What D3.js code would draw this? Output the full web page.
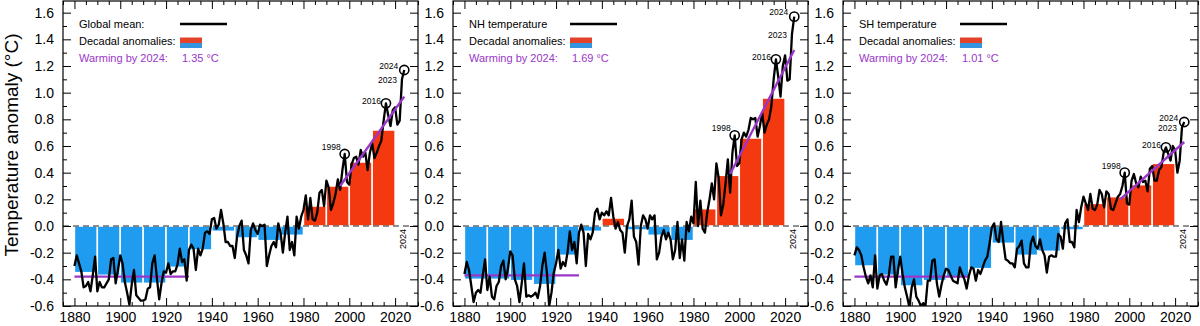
<!DOCTYPE html>
<html>
<head>
<meta charset="utf-8">
<script src="https://cdn.jsdelivr.net/npm/d3@7"></script>
<style>
  body { margin: 0; background: #fff; }
  svg { display: block; font-family: "Liberation Sans", Arial, Helvetica, sans-serif; }
</style>
</head>
<body>
<div id="chart"></div>
<script>
// Annual anomalies, 1880 .. 2024 (degC)
const firstYear = 1880;
const globalMean = [
  -0.30,-0.22,-0.28,-0.34,-0.46,-0.45,-0.42,-0.49,-0.37,-0.23,
  -0.49,-0.42,-0.46,-0.46,-0.43,-0.40,-0.25,-0.24,-0.43,-0.33,
  -0.22,-0.28,-0.42,-0.50,-0.59,-0.44,-0.33,-0.52,-0.54,-0.56,
  -0.56,-0.55,-0.47,-0.46,-0.28,-0.22,-0.39,-0.55,-0.43,-0.34,
  -0.35,-0.28,-0.36,-0.34,-0.34,-0.29,-0.17,-0.27,-0.25,-0.41,
  -0.18,-0.14,-0.17,-0.33,-0.17,-0.22,-0.17,-0.05,-0.04,-0.06,
   0.05, 0.06,-0.02, 0.01, 0.12, 0.02,-0.12,-0.12,-0.15,-0.15,
  -0.24,-0.08, 0.00, 0.04,-0.18,-0.22,-0.28,-0.03, 0.02,-0.03,
  -0.06, 0.01, 0.00, 0.01,-0.30,-0.22,-0.15,-0.12,-0.16, 0.02,
  -0.05,-0.20,-0.05, 0.07,-0.18,-0.12,-0.22, 0.07,-0.02, 0.07,
   0.12, 0.23, 0.05, 0.21, 0.05, 0.04, 0.10, 0.25, 0.27, 0.15,
   0.34, 0.29, 0.12, 0.17, 0.24, 0.35, 0.27, 0.42, 0.54, 0.33,
   0.31, 0.46, 0.51, 0.52, 0.46, 0.57, 0.52, 0.55, 0.42, 0.55,
   0.62, 0.51, 0.55, 0.60, 0.64, 0.79, 0.92, 0.83, 0.75, 0.87,
   0.89, 0.76, 0.79, 1.10, 1.17
];
const nhTemp = [
  -0.36,-0.27,-0.33,-0.45,-0.57,-0.50,-0.48,-0.50,-0.37,-0.25,
  -0.48,-0.38,-0.53,-0.55,-0.45,-0.42,-0.30,-0.26,-0.40,-0.32,
  -0.19,-0.22,-0.40,-0.45,-0.57,-0.43,-0.28,-0.53,-0.52,-0.53,
  -0.52,-0.50,-0.54,-0.45,-0.30,-0.20,-0.35,-0.60,-0.50,-0.35,
  -0.28,-0.18,-0.32,-0.27,-0.30,-0.20,-0.04,-0.18,-0.12,-0.28,
  -0.05, 0.01,-0.05,-0.30,-0.06,-0.10,-0.05, 0.10, 0.13, 0.05,
   0.10, 0.08, 0.11, 0.08, 0.21, 0.07,-0.02, 0.03,-0.03,-0.05,
  -0.20, 0.00, 0.05, 0.19,-0.08,-0.12,-0.29, 0.00, 0.08, 0.05,
  -0.02, 0.08, 0.05, 0.08,-0.25,-0.20,-0.08,-0.03,-0.10,-0.05,
  -0.10,-0.25,-0.18, 0.03,-0.24,-0.10,-0.26, 0.03,-0.04, 0.07,
   0.02, 0.33, 0.00, 0.19,-0.02,-0.05, 0.10, 0.20, 0.32, 0.20,
   0.47, 0.36, 0.08, 0.16, 0.32, 0.50, 0.25, 0.55, 0.68, 0.45,
   0.47, 0.65, 0.70, 0.67, 0.72, 0.81, 0.80, 0.81, 0.67, 0.75,
   0.85, 0.70, 0.76, 0.80, 0.90, 1.10, 1.25, 1.12, 0.97, 1.20,
   1.28, 1.09, 1.10, 1.44, 1.57
];
const shTemp = [
  -0.22,-0.16,-0.18,-0.22,-0.31,-0.38,-0.43,-0.37,-0.46,-0.22,
  -0.47,-0.37,-0.36,-0.41,-0.44,-0.37,-0.23,-0.23,-0.46,-0.33,
  -0.23,-0.36,-0.46,-0.53,-0.61,-0.46,-0.40,-0.53,-0.56,-0.60,
  -0.58,-0.60,-0.41,-0.41,-0.26,-0.25,-0.43,-0.53,-0.44,-0.37,
  -0.32,-0.33,-0.37,-0.41,-0.42,-0.43,-0.31,-0.36,-0.40,-0.47,
  -0.37,-0.31,-0.32,-0.41,-0.33,-0.36,-0.31,-0.26,-0.23,-0.13,
  -0.01, 0.02,-0.10,-0.12, 0.03,-0.12,-0.25,-0.26,-0.28,-0.28,
  -0.31,-0.17,-0.15,-0.11,-0.28,-0.31,-0.31,-0.13,-0.08,-0.15,
  -0.17,-0.10,-0.18,-0.22,-0.35,-0.23,-0.22,-0.23,-0.23,-0.06,
  -0.08,-0.17, 0.02, 0.05,-0.12,-0.12,-0.16, 0.12, 0.03, 0.14,
   0.22, 0.17, 0.12, 0.24, 0.13, 0.12, 0.16, 0.27, 0.24, 0.14,
   0.26, 0.24, 0.13, 0.12, 0.17, 0.22, 0.24, 0.30, 0.40, 0.17,
   0.16, 0.34, 0.39, 0.32, 0.29, 0.37, 0.33, 0.34, 0.26, 0.43,
   0.45, 0.34, 0.34, 0.42, 0.44, 0.55, 0.59, 0.54, 0.49, 0.60,
   0.57, 0.40, 0.49, 0.74, 0.78
];

// Decadal anomalies
const decades = [1880,1890,1900,1910,1920,1930,1940,1950,1960,1970,1980,1990,2000,2010];
const globalDecadal = [-0.35,-0.37,-0.43,-0.43,-0.31,-0.18,-0.04,-0.09,-0.11,-0.07,0.15,0.30,0.48,0.72];
const nhDecadal     = [-0.40,-0.40,-0.41,-0.44,-0.22,-0.04,0.06,-0.03,-0.07,-0.11,0.13,0.38,0.66,0.96];
const shDecadal     = [-0.30,-0.37,-0.45,-0.41,-0.38,-0.32,-0.13,-0.22,-0.19,-0.03,0.17,0.22,0.31,0.47];

// Purple lines: 1880-1930 baseline and recent trend
const baselineYears = [1880, 1930];
const baselines = [-0.38, -0.37, -0.38];
const trendYears = [1996, 2024];
const trends = [[0.30, 0.97], [0.39, 1.32], [0.20, 0.63]];

const seriesNames = ["Global mean:", "NH temperature", "SH temperature"];
const warmingLabels = ["1.35 °C", "1.69 °C", "1.01 °C"];
const circledYears = [1998, 2016, 2024];

const yTicksMajor = [-0.6,-0.4,-0.2,0.0,0.2,0.4,0.6,0.8,1.0,1.2,1.4,1.6];
const yTicksMinor = [-0.5,-0.3,-0.1,0.1,0.3,0.5,0.7,0.9,1.1,1.3,1.5];
const xTicksMajor = [1880,1900,1920,1940,1960,1980,2000,2020];

const annual = [globalMean, nhTemp, shTemp];
const decadal = [globalDecadal, nhDecadal, shDecadal];

const W = 1200, H = 326;
const panelLeft = [63, 453, 843], panelW = 355, plotTop = 1, plotBottom = 306;
const red = "#f4380f", blue = "#1f9cf0", purple = "#9a36c8";

const svg = d3.select("#chart").append("svg")
    .attr("width", W).attr("height", H);

svg.append("text")
    .attr("transform", "translate(11,145) rotate(-90)")
    .attr("text-anchor", "middle")
    .attr("dominant-baseline", "central")
    .style("font-size", "19px")
    .text("Temperature anomaly (°C)");

const h = plotBottom - plotTop;
const x = d3.scaleLinear().domain([1875, 2030]).range([0, panelW]);
const y = d3.scaleLinear().domain([-0.6, 1.6875]).range([h, 0]);

const xMinor = d3.range(1875, 2031, 5).filter(v => !xTicksMajor.includes(v));

panelLeft.forEach((left, p) => {
    const g = svg.append("g").attr("transform", `translate(${left},${plotTop})`);
    const vals = annual[p];
    const pts = vals.map((v, i) => ({year: firstYear + i, value: v}));

    g.append("clipPath").attr("id", "clip" + p)
      .append("rect").attr("width", panelW).attr("height", h);

    const plot = g.append("g").attr("clip-path", `url(#clip${p})`);

    // Decadal bars
    plot.selectAll("rect.bar")
      .data(decades.map((d, i) => ({decade: d, value: decadal[p][i]})))
      .join("rect")
        .attr("class", "bar")
        .attr("x", d => x(d.decade))
        .attr("width", d => x(d.decade + 10) - x(d.decade))
        .attr("y", d => y(Math.max(0, d.value)))
        .attr("height", d => Math.abs(y(d.value) - y(0)))
        .attr("fill", d => d.value >= 0 ? red : blue)
        .attr("stroke", "#fff")
        .attr("stroke-width", 1.5);

    // Zero line
    plot.append("line")
        .attr("x1", 0).attr("x2", panelW)
        .attr("y1", y(0)).attr("y2", y(0))
        .attr("stroke", "#222").attr("stroke-width", 1)
        .attr("stroke-dasharray", "6,4");

    // Baseline
    plot.append("line")
        .attr("x1", x(baselineYears[0])).attr("x2", x(baselineYears[1]))
        .attr("y1", y(baselines[p])).attr("y2", y(baselines[p]))
        .attr("stroke", purple).attr("stroke-width", 2.4);

    // Annual series
    plot.append("path")
        .datum(pts)
        .attr("fill", "none")
        .attr("stroke", "#000")
        .attr("stroke-width", 2.3)
        .attr("stroke-linejoin", "round")
        .attr("d", d3.line().x(d => x(d.year)).y(d => y(d.value)));

    // Trend
    plot.append("line")
        .attr("x1", x(trendYears[0])).attr("x2", x(trendYears[1]))
        .attr("y1", y(trends[p][0])).attr("y2", y(trends[p][1]))
        .attr("stroke", purple).attr("stroke-width", 2.4);

    // Circled years
    const circ = pts.filter(d => circledYears.includes(d.year));
    g.selectAll("circle.mark").data(circ).join("circle")
        .attr("class", "mark")
        .attr("cx", d => x(d.year)).attr("cy", d => y(d.value))
        .attr("r", 4.6)
        .attr("fill", "none").attr("stroke", "#000").attr("stroke-width", 1.6);

    const labelOffsets = {1998: [-4, -7], 2016: [-5, -2.5], 2024: [-6, -4.5], 2023: [-5, 1]};
    const labelled = pts.filter(d => labelOffsets[d.year]);
    g.selectAll("text.yr").data(labelled).join("text")
        .attr("class", "yr")
        .attr("x", d => x(d.year) + labelOffsets[d.year][0])
        .attr("y", d => y(d.value) + labelOffsets[d.year][1])
        .attr("text-anchor", "end")
        .attr("dominant-baseline", "central")
        .style("font-size", "8.5px")
        .text(d => d.year);

    g.append("text")
        .attr("transform", `translate(${x(2024) - 1},${y(0) + 3}) rotate(-90)`)
        .attr("text-anchor", "end")
        .attr("dominant-baseline", "central")
        .style("font-size", "9px")
        .text("2024");

    // Axes (ticks pointing inwards)
    const yl = g.append("g").call(d3.axisLeft(y).tickValues(yTicksMajor).tickSize(-8).tickPadding(9)
        .tickFormat(d => d3.format(".1f")(d).replace("−", "-")));
    yl.selectAll("text").style("font-size", "14px");
    g.append("g").call(d3.axisLeft(y).tickValues(yTicksMinor).tickSize(-4).tickFormat(""));
    g.append("g").attr("transform", `translate(${panelW},0)`)
        .call(d3.axisRight(y).tickValues(yTicksMajor).tickSize(-8).tickFormat(""));
    g.append("g").attr("transform", `translate(${panelW},0)`)
        .call(d3.axisRight(y).tickValues(yTicksMinor).tickSize(-4).tickFormat(""));

    const xb = g.append("g").attr("transform", `translate(0,${h})`)
        .call(d3.axisBottom(x).tickValues(xTicksMajor).tickSize(-8).tickPadding(6).tickFormat(d3.format("d")));
    xb.selectAll("text").style("font-size", "14px");
    g.append("g").attr("transform", `translate(0,${h})`)
        .call(d3.axisBottom(x).tickValues(xMinor).tickSize(-4).tickFormat(""));
    g.append("g").call(d3.axisTop(x).tickValues(xTicksMajor).tickSize(-8).tickFormat(""));
    g.append("g").call(d3.axisTop(x).tickValues(xMinor).tickSize(-4).tickFormat(""));

    g.selectAll(".domain").remove();
    g.selectAll(".tick line").attr("stroke", "#000").attr("stroke-width", 1);
    g.selectAll(".tick text").attr("fill", "#000").style("font-family", "'Liberation Sans', Arial, sans-serif");

    g.append("rect")
        .attr("width", panelW).attr("height", h)
        .attr("fill", "none").attr("stroke", "#000").attr("stroke-width", 1.2);

    // Legend
    const lg = g.append("g").attr("transform", "translate(16,0)").style("font-size", "11px");
    lg.append("text").attr("x", 0).attr("y", 23).attr("dominant-baseline", "central").text(seriesNames[p]);
    lg.append("line").attr("x1", 101).attr("x2", 148).attr("y1", 23).attr("y2", 23)
        .attr("stroke", "#000").attr("stroke-width", 2.3);
    lg.append("text").attr("x", 0).attr("y", 40).attr("dominant-baseline", "central").text("Decadal anomalies:");
    lg.append("rect").attr("x", 101).attr("y", 36.5).attr("width", 22).attr("height", 5.5).attr("fill", "#e2432a");
    lg.append("rect").attr("x", 101).attr("y", 42).attr("width", 22).attr("height", 5).attr("fill", "#3494e0");
    lg.append("text").attr("x", 0).attr("y", 57).attr("dominant-baseline", "central")
        .attr("fill", purple).text("Warming by 2024:");
    lg.append("text").attr("x", 103).attr("y", 57).attr("dominant-baseline", "central")
        .attr("fill", purple).text(warmingLabels[p]);
});
</script>
</body>
</html>
